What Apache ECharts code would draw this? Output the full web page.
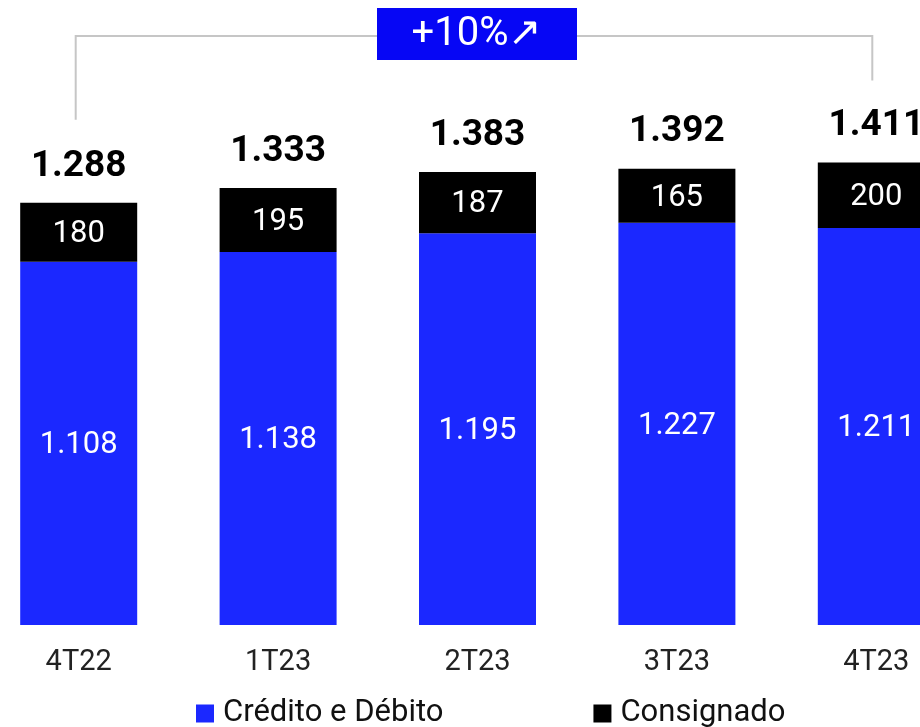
<!DOCTYPE html>
<html>
<head>
<meta charset="utf-8">
<script src="https://cdn.jsdelivr.net/npm/echarts@6/dist/echarts.min.js"></script>
<style>
  html, body { margin: 0; padding: 0; background: #fff; overflow: hidden; }
  /* last bar runs off the right edge in the original, so the canvas is wider than the window */
  #chart { width: 997px; height: 727px; margin-left: -21px; }
</style>
</head>
<body>
<div id="chart"></div>
<script>
const categories = ["4T22", "1T23", "2T23", "3T23", "4T23"];
const creditoDebito = [1108, 1138, 1195, 1227, 1211];
const consignado = [180, 195, 187, 165, 200];
const totais = [1288, 1333, 1383, 1392, 1411];
const growthLabel = "+10%↗";

// 1108 -> "1.108"
function fmt(v) {
  const s = String(v);
  return s.length > 3 ? s.slice(0, s.length - 3) + "." + s.slice(-3) : s;
}

const chart = echarts.init(document.getElementById("chart"));
const option = {
  animation: false,
  textStyle: { fontFamily: "Roboto" },
  grid: { left: 0, right: 0, top: 35, bottom: 102 },
  legend: {
    top: 698,
    left: 217,
    padding: 0,
    itemWidth: 18,
    itemHeight: 18,
    itemGap: 150,
    icon: "rect",
    textStyle: {
      fontSize: 31,
      lineHeight: 28,
      color: "#111",
      fontFamily: "Roboto",
      padding: [0, 0, 0, 4]
    },
    data: ["Crédito e Débito", "Consignado"]
  },
  xAxis: {
    type: "category",
    data: categories,
    axisLine: { show: false },
    axisTick: { show: false },
    axisLabel: { fontSize: 29, color: "#222", margin: 23 }
  },
  yAxis: {
    type: "value",
    min: 0,
    max: 1800,
    show: false,
    splitLine: { show: false }
  },
  series: [
    {
      name: "Crédito e Débito",
      type: "bar",
      stack: "t",
      barWidth: 117,
      data: creditoDebito,
      itemStyle: { color: "#1b28ff" },
      label: {
        show: true,
        position: "inside",
        offset: [0, 2],
        color: "#fff",
        fontSize: 31,
        formatter: (p) => fmt(p.value)
      }
    },
    {
      name: "Consignado",
      type: "bar",
      stack: "t",
      barWidth: 117,
      data: consignado,
      itemStyle: { color: "#000" },
      label: {
        show: true,
        position: "inside",
        offset: [0, 2],
        color: "#fff",
        fontSize: 31,
        formatter: (p) => fmt(p.value)
      }
    },
    {
      name: "Total",
      type: "bar",
      stack: "t",
      barWidth: 117,
      data: totais.map(() => 0),
      itemStyle: { color: "transparent" },
      label: {
        show: true,
        position: "top",
        distance: 18,
        color: "#000",
        fontSize: 37,
        fontWeight: "bold",
        formatter: (p) => fmt(totais[p.dataIndex])
      }
    }
  ]
};
chart.setOption(option);

// bracket and growth box, positioned from the axis scale
const x0 = chart.convertToPixel({ xAxisIndex: 0 }, categories[0]) - 3;
const x1 = chart.convertToPixel({ xAxisIndex: 0 }, categories[categories.length - 1]) - 4;
const lineY = 36;
const y0 = chart.convertToPixel({ yAxisIndex: 0 }, totais[0]) - 83;
const y1 = chart.convertToPixel({ yAxisIndex: 0 }, totais[totais.length - 1]) - 82;
const boxW = 200, boxH = 52;
const cx = 477 + 21;
chart.setOption({
  graphic: [
    {
      type: "polyline",
      shape: { points: [[x0, y0], [x0, lineY], [x1, lineY], [x1, y1]] },
      style: { stroke: "#c6c6c6", lineWidth: 2, fill: null }
    },
    {
      type: "rect",
      shape: { x: cx - boxW / 2, y: lineY - 28, width: boxW, height: boxH },
      style: { fill: "#0606f5" }
    },
    {
      type: "text",
      x: cx,
      y: lineY - 1,
      style: {
        text: growthLabel,
        fill: "#fff",
        fontSize: 40,
        fontFamily: "Roboto",
        align: "center",
        verticalAlign: "middle"
      }
    }
  ]
});
</script>
</body>
</html>
